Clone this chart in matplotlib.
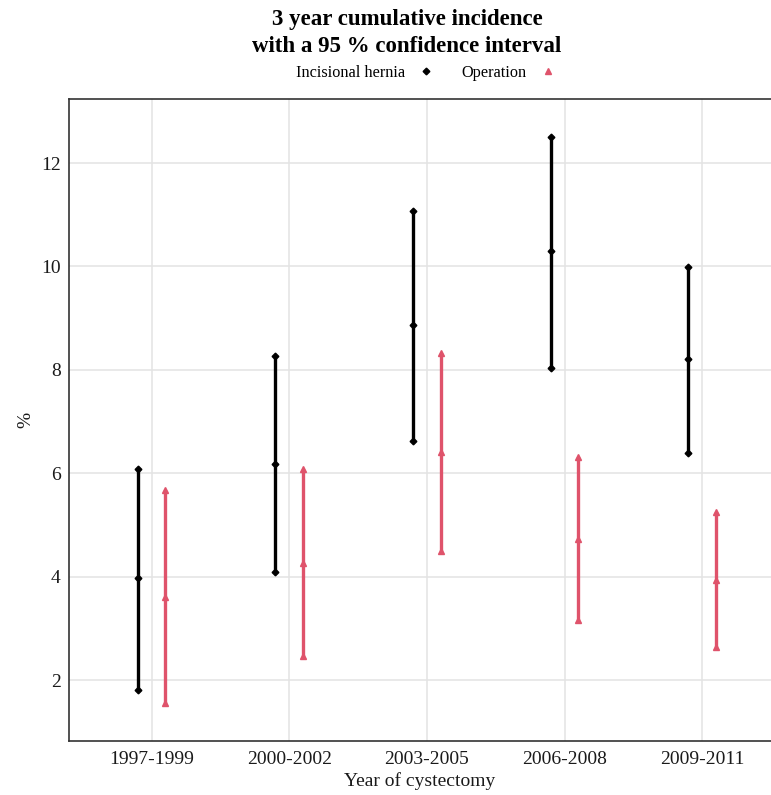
import matplotlib
matplotlib.use("Agg")
import matplotlib.pyplot as plt
from matplotlib.lines import Line2D
import numpy as np

periods = ["1997-1999", "2000-2002", "2003-2005", "2006-2008", "2009-2011"]
hernia_est = [3.97, 6.18, 8.87, 10.29, 8.21]
hernia_low = [1.81, 4.09, 6.62, 8.04, 6.39]
hernia_high = [6.08, 8.27, 11.07, 12.50, 9.99]
oper_est = [3.60, 4.26, 6.41, 4.73, 3.93]
oper_low = [1.55, 2.46, 4.49, 3.16, 2.64]
oper_high = [5.67, 6.08, 8.33, 6.32, 5.25]

BLACK = "black"
RED = "#DF536B"
SERIF = ["Liberation Serif", "DejaVu Serif"]
plt.rcParams["font.family"] = SERIF

W, H = 771, 795
fig = plt.figure(figsize=(W / 100, H / 100), dpi=100)
ax = fig.add_axes([69 / W, (H - 741) / H, 1 - 69 / W, (741 - 99) / H])

x = np.arange(len(periods))
xb = x - 0.1
xr = x + 0.1

ax.vlines(xb, hernia_low, hernia_high, color=BLACK, lw=2.4, zorder=3)
for arr in (hernia_low, hernia_est, hernia_high):
    ax.plot(xb, arr, ls="none", marker="D", ms=3.4, color=BLACK, zorder=4)
ax.vlines(xr, oper_low, oper_high, color=RED, lw=2.4, zorder=3)
for arr in (oper_low, oper_est, oper_high):
    ax.plot(xr, arr, ls="none", marker="^", ms=5, color=RED, zorder=4)

ax.set_xlim(-0.6, 4.5)
ax.set_ylim(0.82, 13.24)
ax.set_xticks(x)
ax.set_xticklabels(periods)
ax.set_yticks([2, 4, 6, 8, 10, 12])
ax.grid(True, color="#e3e3e3", lw=1.1)
ax.set_axisbelow(True)
ax.tick_params(axis="both", labelsize=14, length=0, labelcolor="#1a1a1a")
ax.tick_params(axis="y", pad=6)
ax.tick_params(axis="x", pad=7)
for s in ("left", "bottom", "top"):
    ax.spines[s].set_color("#333333")
    ax.spines[s].set_linewidth(1.2)
ax.spines["right"].set_visible(False)

ax.set_xlabel("Year of cystectomy", fontsize=14, color="#1a1a1a", labelpad=3)
ax.set_ylabel("%", fontsize=14, color="#1a1a1a", labelpad=5)

fig.text(407 / W, 1 - 33 / H, "3 year cumulative incidence\nwith a 95 % confidence interval",
         ha="center", va="center", fontsize=16.5, fontweight="bold", linespacing=1.4)

handles = [
    Line2D([], [], ls="none", marker="D", ms=3.4, color=BLACK, label="Incisional hernia"),
    Line2D([], [], ls="none", marker="^", ms=4, color=RED, label="Operation"),
]
fig.legend(handles=handles, loc="center", bbox_to_anchor=(426 / W, 1 - 73 / H), ncol=2,
           frameon=False, markerfirst=False, fontsize=11.7, handlelength=1.0,
           handletextpad=0.8, columnspacing=1.7)

fig.savefig("out.png", dpi=100)
